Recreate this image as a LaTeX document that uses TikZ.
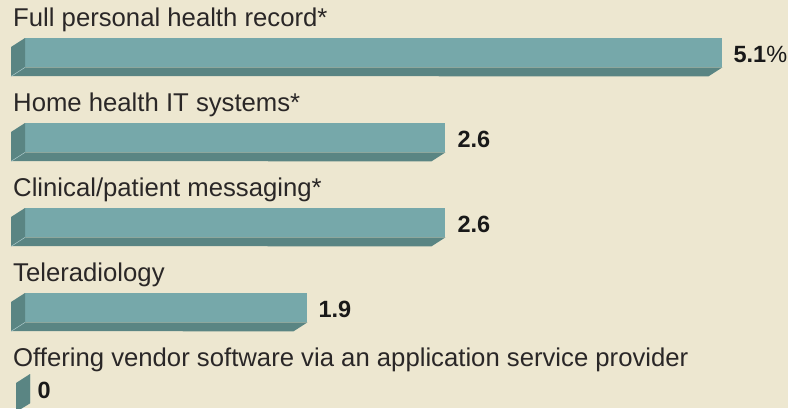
\documentclass[tikz,border=0pt]{standalone}
\usepackage{fontspec}
\setmainfont{Liberation Sans}
\usepackage{tikz}
\usepackage{xcolor}
\usetikzlibrary{positioning}

\definecolor{bgbeige}{HTML}{EDE7D0}
\definecolor{barfront}{HTML}{76A8AA}
\definecolor{barside}{HTML}{5A8583}
\definecolor{labelgray}{HTML}{2A2727}

\begin{document}
\begin{tikzpicture}
[
x=1pt, y=-1pt,
bar-a/.style={rectangle, fill=barfront, inner sep=0pt, minimum height=29pt, anchor=north west},
side-a/.style={fill=barside},
edge-a/.style={draw=barfront!60!white, line width=0.5pt},
text-a/.style={anchor=base west, inner sep=0pt, text=labelgray, font=\fontsize{25.7}{26}\selectfont},
text-b/.style={inner sep=0pt, text=black!90, font=\bfseries\fontsize{23.5}{24}\selectfont, yshift=-2pt}
]

\fill [bgbeige] (0,0) rectangle (788,408);
\useasboundingbox (0,0) rectangle (788,408);

\node (cat-1) [text-a]                            at (13,26)  {Full personal health record*};
\node (bar-1) [bar-a, minimum width=697pt]        at (25,38)  {};
\node (val-1) [text-b, right = 11pt of bar-1]                 {5.1{\mdseries\%}};
\node (cat-2) [text-a]                            at (13,111) {Home health IT systems*};
\node (bar-2) [bar-a, minimum width=420pt]        at (25,123) {};
\node (val-2) [text-b, right = 12pt of bar-2]                 {2.6};
\node (cat-3) [text-a]                            at (13,196) {Clinical/patient messaging*};
\node (bar-3) [bar-a, minimum width=420pt]        at (25,208) {};
\node (val-3) [text-b, right = 12pt of bar-3]                 {2.6};
\node (cat-4) [text-a]                            at (13,281) {Teleradiology};
\node (bar-4) [bar-a, minimum width=282pt]        at (25,293) {};
\node (val-4) [text-b, right = 11pt of bar-4]                 {1.9};
\node (cat-5) [text-a]                            at (13,366) {Offering vendor software via an application service provider};
\node (bar-5) [bar-a, minimum width=0pt]          at (30,374) {};
\node (val-5) [text-b, right = 7pt of bar-5]                  {0};

% depth faces
\fill [side-a] (bar-1.north west) -- ++(-14,9) -- ++(0,29) -- ([shift={(-14,9)}]bar-1.south east) -- (bar-1.south east) -- (bar-1.south west) -- cycle;
\fill [side-a] (bar-2.north west) -- ++(-14,9) -- ++(0,29) -- ([shift={(-14,9)}]bar-2.south east) -- (bar-2.south east) -- (bar-2.south west) -- cycle;
\fill [side-a] (bar-3.north west) -- ++(-14,9) -- ++(0,29) -- ([shift={(-14,9)}]bar-3.south east) -- (bar-3.south east) -- (bar-3.south west) -- cycle;
\fill [side-a] (bar-4.north west) -- ++(-14,9) -- ++(0,29) -- ([shift={(-14,9)}]bar-4.south east) -- (bar-4.south east) -- (bar-4.south west) -- cycle;
\fill [side-a] (bar-5.north west) -- ++(-14,9) -- ++(0,29) -- (bar-5.south west) -- cycle;
\draw [edge-a] (bar-1.south west) -- ++(-14,9);
\draw [edge-a] (bar-2.south west) -- ++(-14,9);
\draw [edge-a] (bar-3.south west) -- ++(-14,9);
\draw [edge-a] (bar-4.south west) -- ++(-14,9);

\end{tikzpicture}
\end{document}
